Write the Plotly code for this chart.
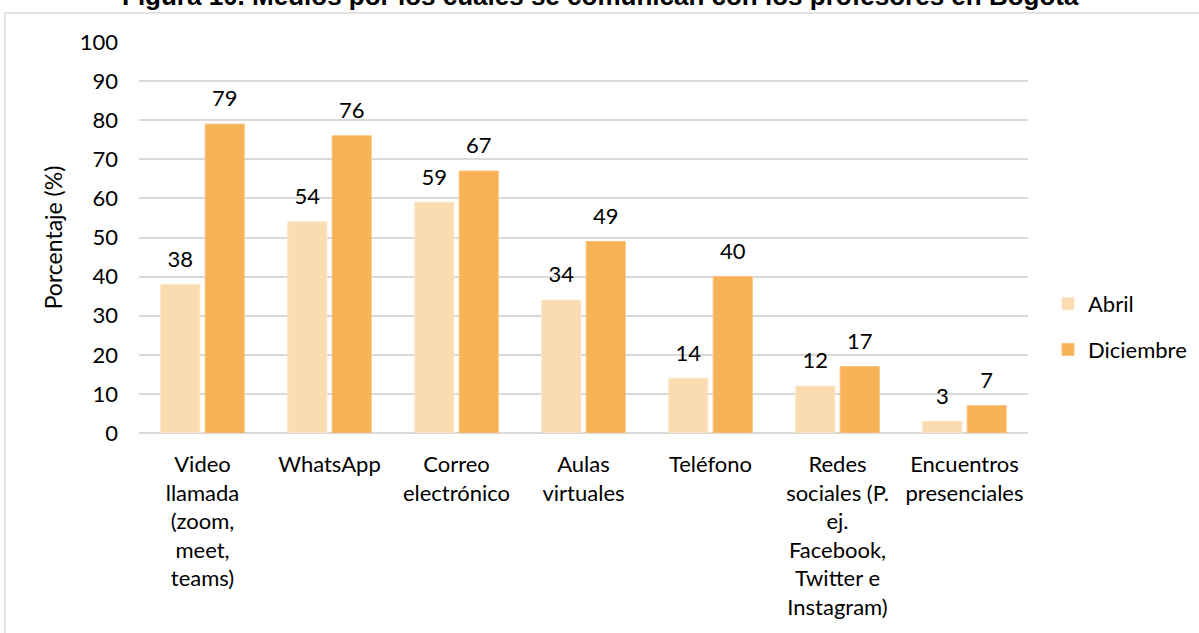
import plotly.graph_objects as go

# Medios de comunicación con los profesores (%)
categorias = [
    "Video<br>llamada<br>(zoom,<br>meet,<br>teams)",
    "WhatsApp",
    "Correo<br>electrónico",
    "Aulas<br>virtuales",
    "Teléfono",
    "Redes<br>sociales (P.<br>ej.<br>Facebook,<br>Twitter e<br>Instagram)",
    "Encuentros<br>presenciales",
]
abril = [38, 54, 59, 34, 14, 12, 3]
diciembre = [79, 76, 67, 49, 40, 17, 7]

font_name = "Lato"
fs = 22

fig = go.Figure()
fig.add_trace(go.Bar(
    x=categorias, y=abril, name="Abril", legendgroup="a",
    marker=dict(color="#FBDCB1", line=dict(color="#FDE6C8", width=1)),
))
fig.add_trace(go.Bar(
    x=categorias, y=diciembre, name="Diciembre", legendgroup="d",
    marker=dict(color="#F7B156", line=dict(color="#F9C27A", width=1)),
))

# etiquetas de datos (agrupadas igual que las barras, con algo más de separación)
for serie in (abril, diciembre):
    fig.add_trace(go.Scatter(
        x=categorias, y=serie, mode="markers+text", text=serie,
        textposition="top center", cliponaxis=False, showlegend=False,
        hoverinfo="skip", marker=dict(size=18, opacity=0),
        textfont=dict(size=fs, color="black", family=font_name),
    ))

W, H = 1199, 633
l, r, t, b = 139, W - 1028, 42, H - 433
pw, ph = W - l - r, H - t - b

# marco del gráfico
fig.add_shape(
    type="rect", xref="paper", yref="paper",
    x0=(5 - l) / pw, x1=(W + 5 - l) / pw,
    y0=(433 - 645) / ph, y1=(433 - 13) / ph,
    line=dict(color="#D9D9D9", width=1.5), fillcolor="rgba(0,0,0,0)",
    layer="below",
)

# título (recortado en la parte superior)
fig.add_annotation(
    text="<b>Figura 10. Medios por los cuales se comunican con los profesores en Bogotá</b>",
    xref="paper", yref="paper", x=(600 - l) / pw, y=(433 - 13) / ph,
    xanchor="center", yanchor="bottom", showarrow=False,
    font=dict(family="Liberation Sans", size=26, color="black"),
)

fig.update_layout(
    width=W, height=H,
    margin=dict(l=l, r=r, t=t, b=b, autoexpand=False),
    paper_bgcolor="white", plot_bgcolor="white",
    font=dict(family=font_name, size=fs, color="black"),
    barmode="group", bargap=0.3, bargroupgap=0.12,
    scattermode="group", scattergap=0.3,
    showlegend=True,
    legend=dict(
        x=(1048 - l) / pw, y=(433 - 327) / ph, xanchor="left", yanchor="middle",
        font=dict(size=fs), tracegroupgap=14, bgcolor="rgba(0,0,0,0)",
    ),
)
fig.update_xaxes(
    showgrid=False, showline=False, zeroline=False,
    tickfont=dict(size=fs), ticklabelstandoff=16, automargin=False,
)
fig.update_yaxes(
    range=[0, 100], dtick=10, showgrid=True, gridcolor="#D9D9D9", gridwidth=1.5,
    zeroline=True, zerolinecolor="#D9D9D9", zerolinewidth=1.5, showline=False,
    tickfont=dict(size=fs), ticklabelstandoff=20, automargin=False,
    title=dict(text="Porcentaje (%)", font=dict(size=23), standoff=10),
)

fig.write_html(
    "out.html",
    config={"displayModeBar": False},
    post_script="document.body.style.margin='0px';",
)
